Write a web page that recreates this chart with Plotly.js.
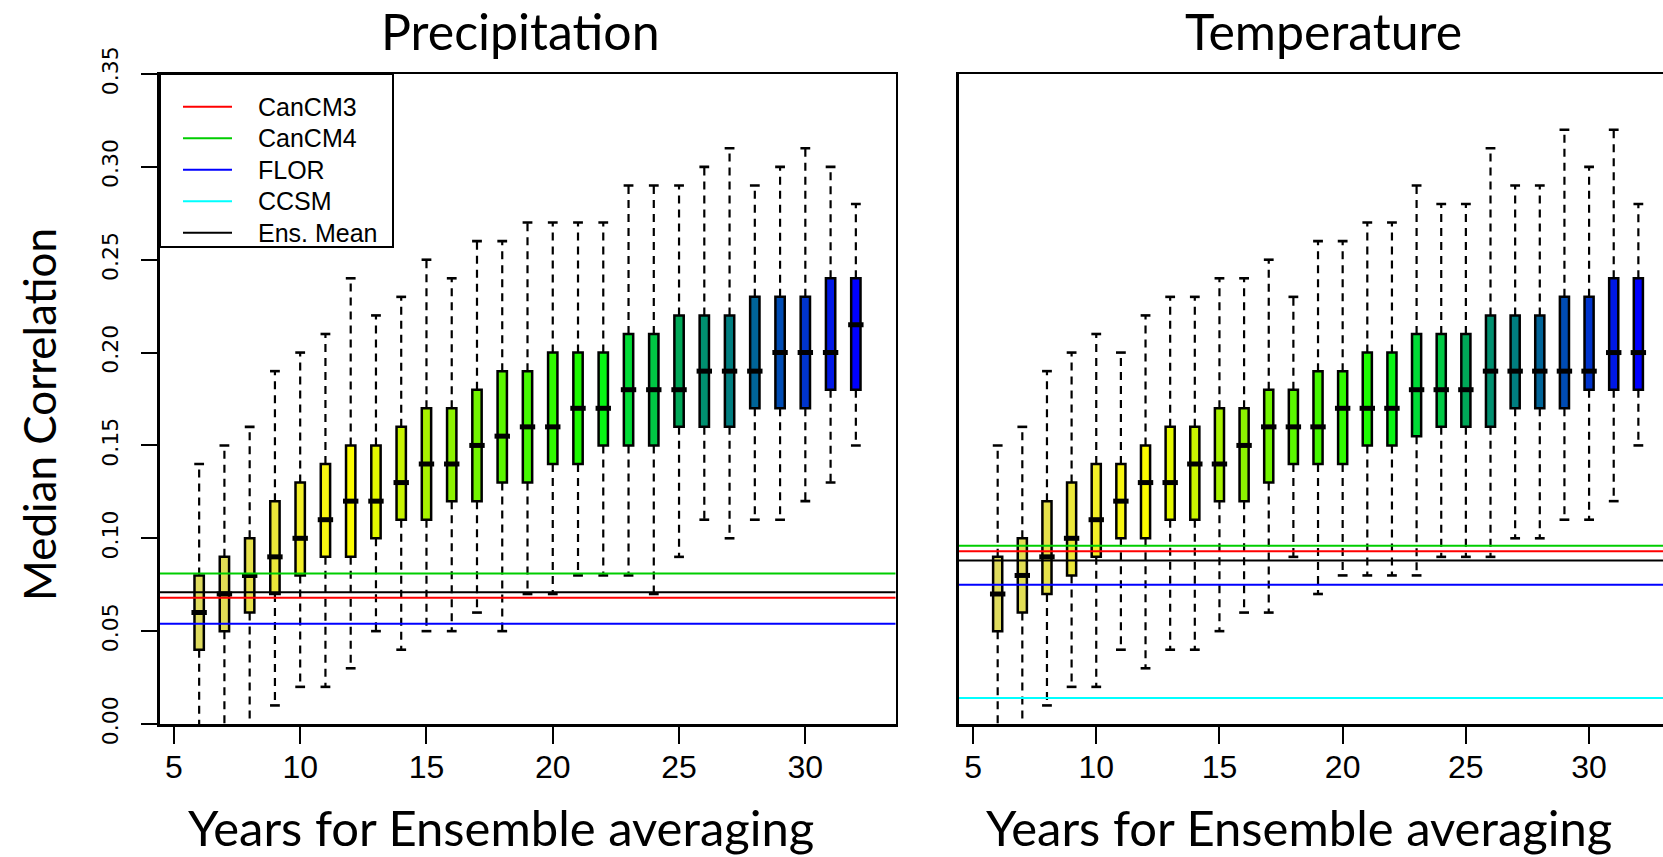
<!DOCTYPE html>
<html>
<head>
<meta charset="utf-8">
<script src="https://cdn.plot.ly/plotly-3.0.1.min.js"></script>
<style>
html,body{margin:0;padding:0;background:#ffffff;}
#chart{width:1663px;height:857px;}
</style>
</head>
<body>
<div id="chart"></div>
<script>
// ---------------- DATA ----------------
const years = [6,7,8,9,10,11,12,13,14,15,16,17,18,19,20,21,22,23,24,25,26,27,28,29,30,31,32];

// Precipitation box statistics
const precipUpper  = [0.14,0.15,0.16,0.19,0.20,0.21,0.24,0.22,0.23,0.25,0.24,0.26,0.26,0.27,0.27,0.27,0.27,0.29,0.29,0.29,0.30,0.31,0.29,0.30,0.31,0.30,0.28];
const precipQ3     = [0.08,0.09,0.10,0.12,0.13,0.14,0.15,0.15,0.16,0.17,0.17,0.18,0.19,0.19,0.20,0.20,0.20,0.21,0.21,0.22,0.22,0.22,0.23,0.23,0.23,0.24,0.24];
const precipMedian = [0.06,0.07,0.08,0.09,0.10,0.11,0.12,0.12,0.13,0.14,0.14,0.15,0.155,0.16,0.16,0.17,0.17,0.18,0.18,0.18,0.19,0.19,0.19,0.20,0.20,0.20,0.215];
const precipQ1     = [0.04,0.05,0.06,0.07,0.08,0.09,0.09,0.10,0.11,0.11,0.12,0.12,0.13,0.13,0.14,0.14,0.15,0.15,0.15,0.16,0.16,0.16,0.17,0.17,0.17,0.18,0.18];
const precipLower  = [-0.02,-0.02,-0.02,0.01,0.02,0.02,0.03,0.05,0.04,0.05,0.05,0.06,0.05,0.07,0.07,0.08,0.08,0.08,0.07,0.09,0.11,0.10,0.11,0.11,0.12,0.13,0.15];

// Temperature box statistics
const tempUpper  = [0.15,0.16,0.19,0.20,0.21,0.20,0.22,0.23,0.23,0.24,0.24,0.25,0.23,0.26,0.26,0.27,0.27,0.29,0.28,0.28,0.31,0.29,0.29,0.32,0.30,0.32,0.28];
const tempQ3     = [0.09,0.10,0.12,0.13,0.14,0.14,0.15,0.16,0.16,0.17,0.17,0.18,0.18,0.19,0.19,0.20,0.20,0.21,0.21,0.21,0.22,0.22,0.22,0.23,0.23,0.24,0.24];
const tempMedian = [0.07,0.08,0.09,0.10,0.11,0.12,0.13,0.13,0.14,0.14,0.15,0.16,0.16,0.16,0.17,0.17,0.17,0.18,0.18,0.18,0.19,0.19,0.19,0.19,0.19,0.20,0.20];
const tempQ1     = [0.05,0.06,0.07,0.08,0.09,0.10,0.10,0.11,0.11,0.12,0.12,0.13,0.14,0.14,0.14,0.15,0.15,0.155,0.16,0.16,0.16,0.17,0.17,0.17,0.18,0.18,0.18];
const tempLower  = [-0.02,-0.02,0.01,0.02,0.02,0.04,0.03,0.04,0.04,0.05,0.06,0.06,0.09,0.07,0.08,0.08,0.08,0.08,0.09,0.09,0.09,0.10,0.10,0.11,0.11,0.12,0.15];

// Single-model reference correlations
const modelNames = ['CanCM3','CanCM4','FLOR','CCSM','Ens. Mean'];
const precipRef  = [0.068, 0.081, 0.054, null, 0.071];
const tempRef    = [0.093, 0.096, 0.075, 0.014, 0.088];

const xTickVals = [5,10,15,20,25,30];
const yTickVals = [0,0.05,0.10,0.15,0.20,0.25,0.30,0.35];
const yTickText = ['0.00','0.05','0.10','0.15','0.20','0.25','0.30','0.35'];

// ---------------- STYLE ----------------
const modelColors = ['#FF0000','#00CD00','#0000FF','#00FFFF','#000000'];
const boxColors = ['#DEDB5E','#E1DD55','#E6E14A','#ECE83A','#F2EF28','#F8F612','#FCFC00','#E4F800','#C8F400',
                   '#A8F200','#8CF200','#72F400','#5AF600','#44F800','#30FA00','#1CFA00','#08F414','#00DC36',
                   '#00C844','#00A858','#009070','#007E80','#006498','#004CB4','#0034CC','#0018E6','#0000FF'];

const W = 1663, H = 857;
const xTickFont = {family: 'Liberation Sans Narrow, Arial Narrow, Liberation Sans, sans-serif', size: 32, color: '#000'};
const yTickFont = {family: 'DejaVu Sans, Verdana, sans-serif', size: 22, color: '#000'};
const titleFamily = 'Lato, Noto Sans, sans-serif';
const legendFont = {family: 'Liberation Sans, Arial, sans-serif', size: 25, color: '#000'};

function panel(xa, ya, lo, q1, med, q3, hi, refs) {
  const tr = [];
  tr.push({
    type: 'bar', x: years, base: q1, y: q3.map((v, i) => v - q1[i]),
    width: 0.37, xaxis: xa, yaxis: ya, showlegend: false, hoverinfo: 'skip',
    marker: {color: boxColors, line: {color: '#000', width: 2.5}}
  });
  const wx = [], wy = [];
  years.forEach((yr, i) => {
    wx.push(yr, yr, null, yr, yr, null);
    wy.push(q3[i], hi[i], null, q1[i], lo[i], null);
  });
  tr.push({
    type: 'scatter', mode: 'lines', x: wx, y: wy, xaxis: xa, yaxis: ya,
    connectgaps: false, showlegend: false, hoverinfo: 'skip',
    line: {color: '#000', width: 2.2, dash: '8px,6px'}
  });
  tr.push({
    type: 'scatter', mode: 'markers', x: years.concat(years), y: hi.concat(lo),
    xaxis: xa, yaxis: ya, showlegend: false, hoverinfo: 'skip',
    marker: {symbol: 'line-ew', size: 7, color: '#000', line: {color: '#000', width: 2.6}}
  });
  tr.push({
    type: 'scatter', mode: 'markers', x: years, y: med,
    xaxis: xa, yaxis: ya, showlegend: false, hoverinfo: 'skip',
    marker: {symbol: 'line-ew', size: 11, color: '#000', line: {color: '#000', width: 5}}
  });
  modelNames.forEach((nm, i) => {
    if (refs[i] === null) return;
    tr.push({
      type: 'scatter', mode: 'lines', x: [0, 40], y: [refs[i], refs[i]],
      xaxis: xa, yaxis: ya, name: nm, hoverinfo: 'skip', showlegend: false,
      line: {color: modelColors[i], width: 2}
    });
  });
  return tr;
}

const data = []
  .concat(panel('x', 'y', precipLower, precipQ1, precipMedian, precipQ3, precipUpper, precipRef))
  .concat(panel('x2', 'y2', tempLower, tempQ1, tempMedian, tempQ3, tempUpper, tempRef));

const yDom = [1 - 724 / H, 1 - 74 / H];
const baseX = {
  tickmode: 'array', tickvals: xTickVals, ticktext: xTickVals.map(String),
  ticks: 'outside', ticklen: 17, tickwidth: 2, tickcolor: '#000',
  showline: true, linewidth: 2.5, linecolor: '#000', mirror: true,
  showgrid: false, zeroline: false, tickfont: xTickFont, ticklabelstandoff: -4
};

// legend drawn in paper space (box, line samples, labels)
const px = v => v / W, py = v => 1 - v / H;
const legShapes = [{
  type: 'rect', xref: 'paper', yref: 'paper', layer: 'above',
  x0: px(160), x1: px(393), y0: py(247), y1: py(74),
  line: {color: '#000', width: 2}, fillcolor: '#fff'
}];
const legAnn = [];
modelNames.forEach((nm, i) => {
  const ry = 106.7 + 31.5 * i;
  legShapes.push({
    type: 'line', xref: 'paper', yref: 'paper', layer: 'above',
    x0: px(183), x1: px(232), y0: py(ry), y1: py(ry),
    line: {color: modelColors[i], width: 2}
  });
  legAnn.push({
    text: nm, xref: 'paper', yref: 'paper', x: px(256), y: py(ry),
    xanchor: 'left', yanchor: 'middle', showarrow: false, font: legendFont
  });
});

const layout = {
  width: W, height: H,
  margin: {l: 0, r: 0, t: 0, b: 0},
  paper_bgcolor: '#fff', plot_bgcolor: '#fff',
  showlegend: false,
  xaxis: Object.assign({}, baseX, {domain: [px(159.5), px(895.5)], range: [4.43, 33.57], anchor: 'y'}),
  yaxis: {
    domain: yDom, range: [0, 0.35], anchor: 'x',
    tickmode: 'array', tickvals: yTickVals, ticktext: yTickText, tickangle: -90,
    ticks: 'outside', ticklen: 16, tickwidth: 2, tickcolor: '#000',
    showline: true, linewidth: 2.5, linecolor: '#000', mirror: true,
    showgrid: false, zeroline: false, tickfont: yTickFont, ticklabelstandoff: 14
  },
  xaxis2: Object.assign({}, baseX, {domain: [px(958.5), 1], range: [4.41, 33.0], anchor: 'y2'}),
  yaxis2: {
    domain: yDom, range: [0, 0.35], anchor: 'x2',
    showticklabels: false, ticks: '', showline: true, linewidth: 2.5, linecolor: '#000',
    mirror: false, showgrid: false, zeroline: false
  },
  shapes: legShapes,
  annotations: [
    {text: 'Precipitation', xref: 'paper', yref: 'paper', x: px(520), y: py(30.5),
     xanchor: 'center', yanchor: 'middle', showarrow: false,
     font: {family: titleFamily, size: 50, color: '#000'}},
    {text: 'Temperature', xref: 'paper', yref: 'paper', x: px(1323), y: py(30.5),
     xanchor: 'center', yanchor: 'middle', showarrow: false,
     font: {family: titleFamily, size: 50, color: '#000'}},
    {text: 'Median Correlation', xref: 'paper', yref: 'paper', x: px(39), y: py(415),
     xanchor: 'center', yanchor: 'middle', textangle: -90, showarrow: false,
     font: {family: titleFamily, size: 44, color: '#000'}},
    {text: 'Years for Ensemble averaging', xref: 'paper', yref: 'paper', x: px(501), y: py(827),
     xanchor: 'center', yanchor: 'middle', showarrow: false,
     font: {family: titleFamily, size: 49, color: '#000'}},
    {text: 'Years for Ensemble averaging', xref: 'paper', yref: 'paper', x: px(1299), y: py(827),
     xanchor: 'center', yanchor: 'middle', showarrow: false,
     font: {family: titleFamily, size: 49, color: '#000'}}
  ].concat(legAnn)
};

Plotly.newPlot('chart', data, layout, {displayModeBar: false, staticPlot: true});
</script>
</body>
</html>
